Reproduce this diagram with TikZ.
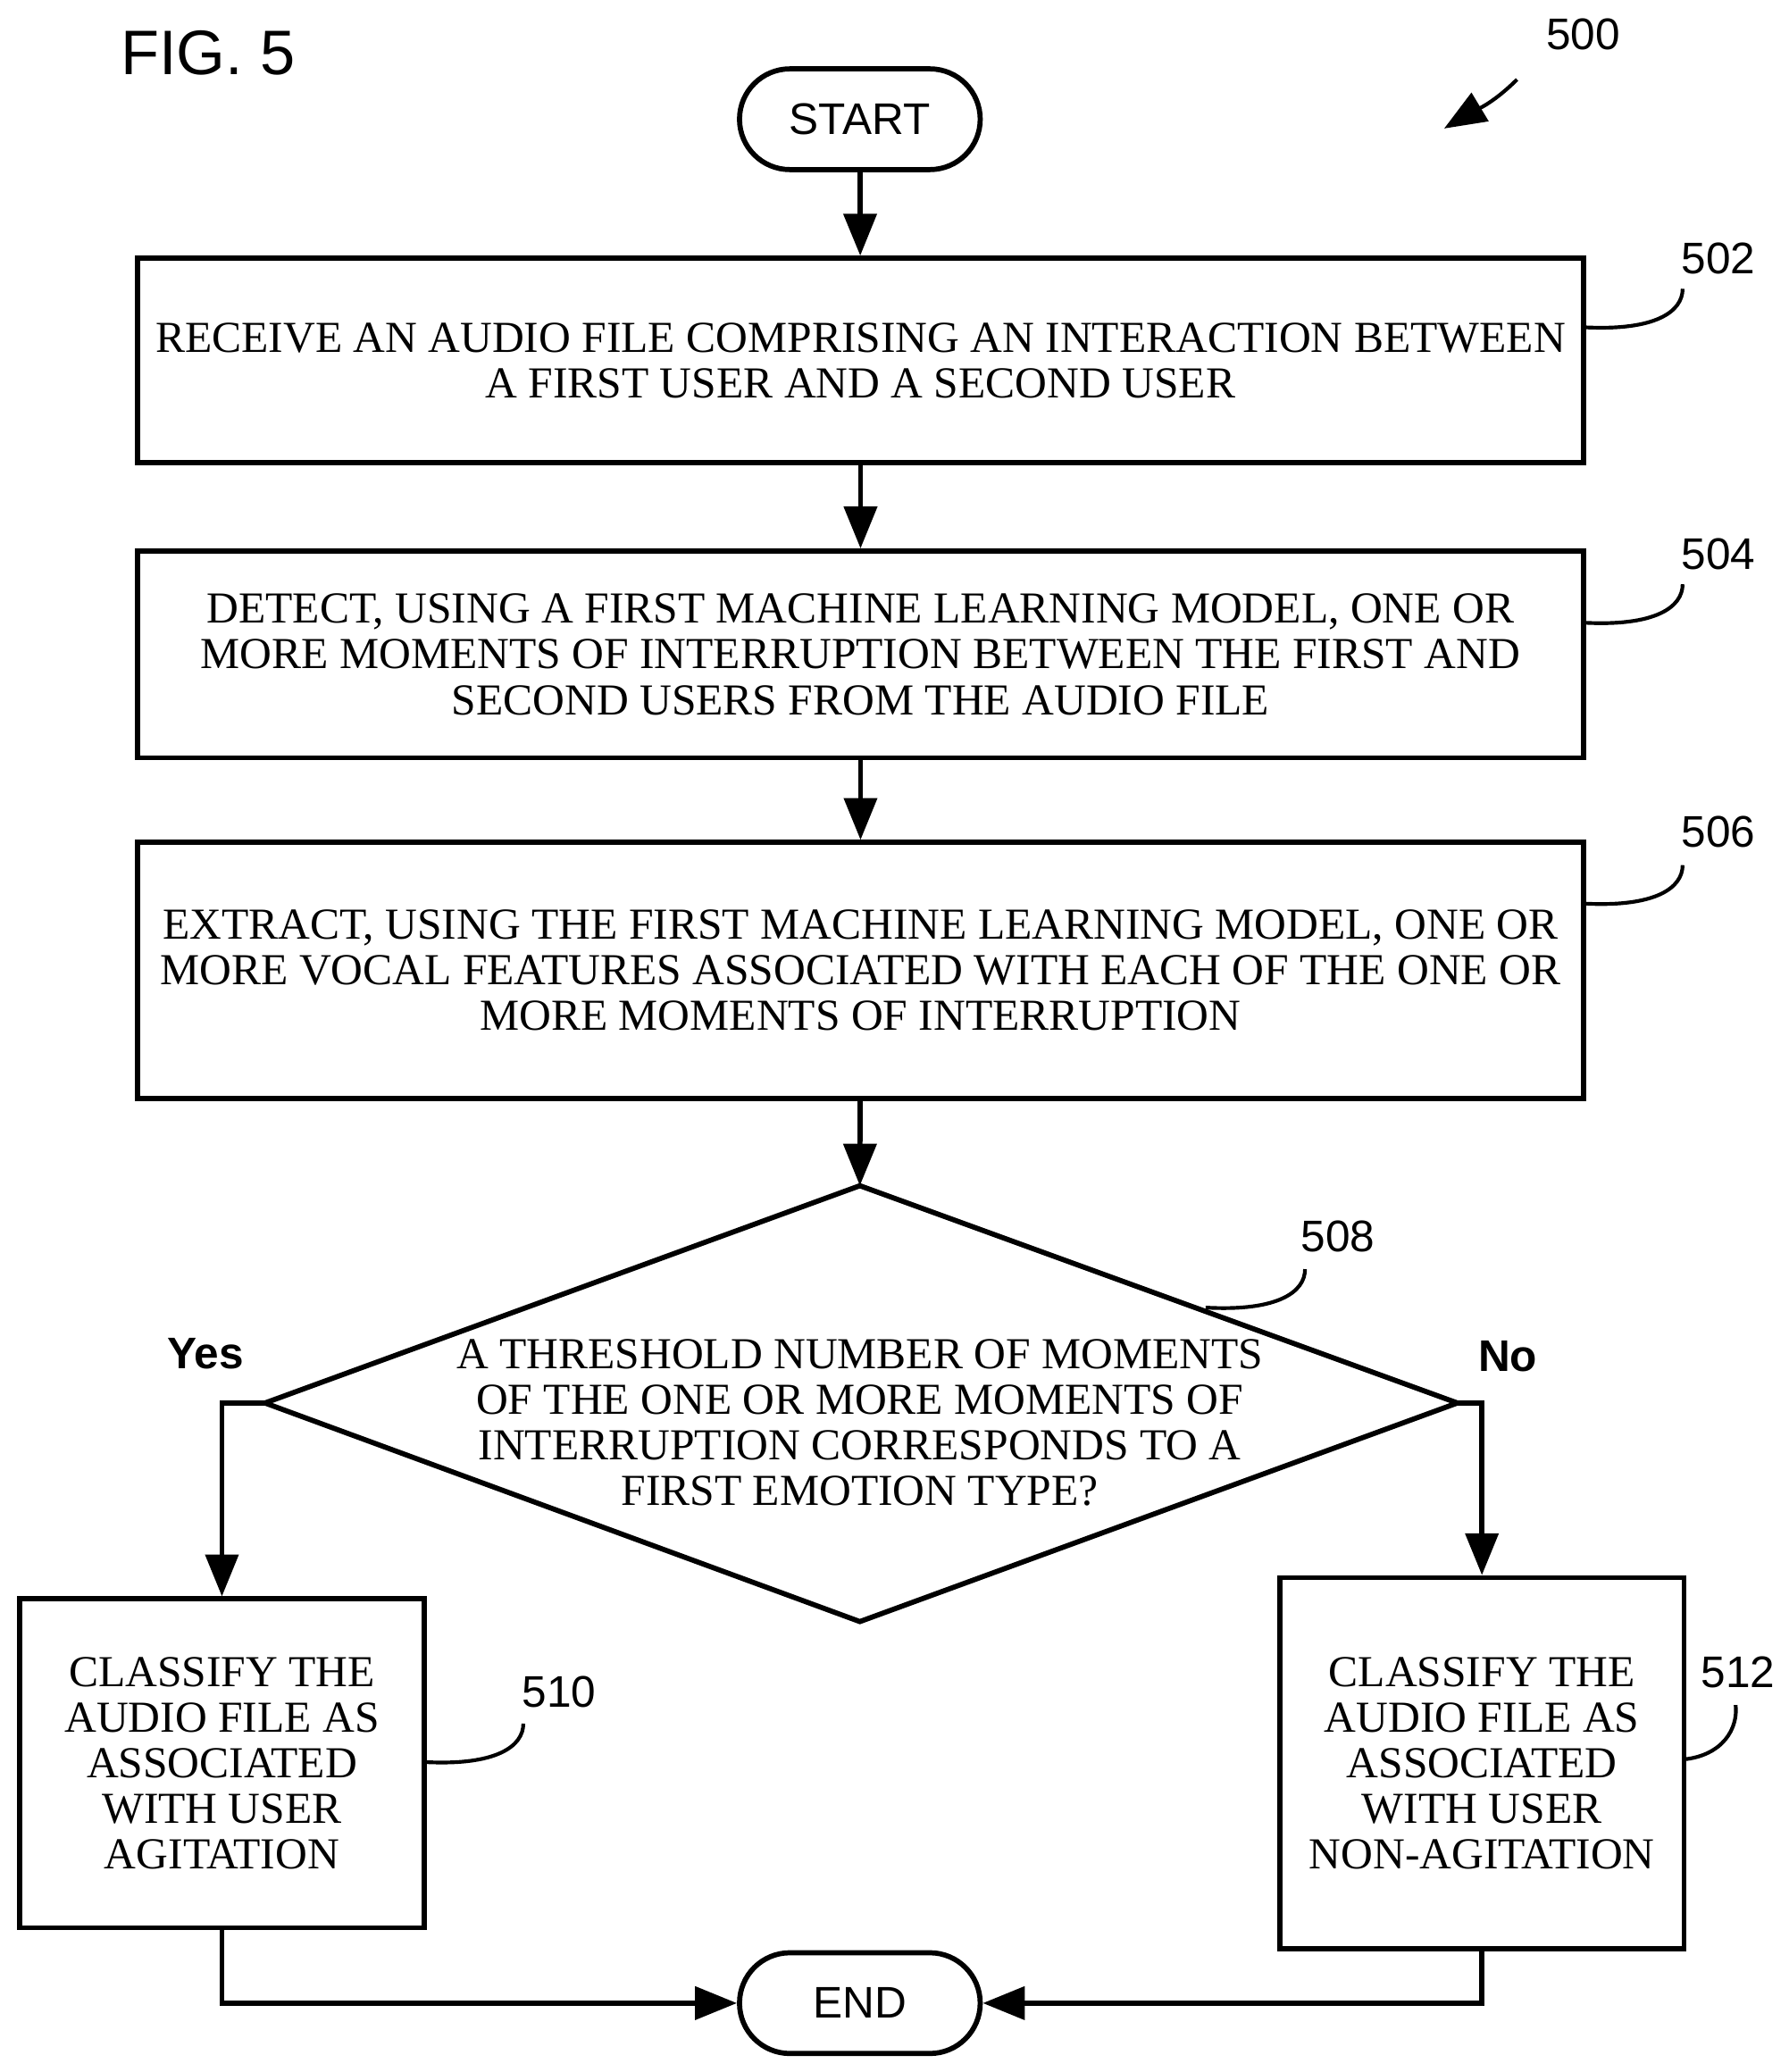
\documentclass[tikz,border=0pt]{standalone}
\usepackage{fontspec}
\setmainfont{Liberation Serif}
\setsansfont{Liberation Sans}
\usetikzlibrary{shapes.geometric,shapes.misc,arrows.meta}
\begin{document}
\begin{tikzpicture}[x=0.01cm,y=-0.01cm,line width=1.1pt,
  box/.style={draw, rectangle, align=center, font=\fontsize{9.5}{9.8}\selectfont, inner sep=0pt},
  term/.style={draw, rounded rectangle, minimum width=2.05cm, minimum height=0.76cm, font=\sffamily\fontsize{9.5}{11}\selectfont},
  lbl/.style={font=\sffamily\fontsize{9.5}{11}\selectfont},
  arr/.style={-{Triangle[length=9pt,width=7pt]}}]
\useasboundingbox (0,0) rectangle (1350,1564);
\node[font=\sffamily\fontsize{13.5}{15}\selectfont] at (157,40) {FIG. 5};
\node[lbl] (n500) at (1195,26) {500};
\draw[arr, line width=0.8pt] (1145,60) .. controls (1125,80) and (1110,85) .. (1090,97);
\node[term] (start) at (649,90) {START};
\node[box, minimum width=10.91cm, minimum height=1.54cm] (s502) at (649.5,272) {RECEIVE AN AUDIO FILE COMPRISING AN INTERACTION BETWEEN\\A FIRST USER AND A SECOND USER};
\node[box, minimum width=10.91cm, minimum height=1.56cm] (s504) at (649.5,494) {DETECT, USING A FIRST MACHINE LEARNING MODEL, ONE OR\\MORE MOMENTS OF INTERRUPTION BETWEEN THE FIRST AND\\SECOND USERS FROM THE AUDIO FILE};
\node[box, minimum width=10.91cm, minimum height=1.93cm] (s506) at (649.5,732.5) {EXTRACT, USING THE FIRST MACHINE LEARNING MODEL, ONE OR\\MORE VOCAL FEATURES ASSOCIATED WITH EACH OF THE ONE OR\\MORE MOMENTS OF INTERRUPTION};
\draw (649,895) coordinate (dtop) -- (1100,1059) coordinate (dright) -- (649,1224) coordinate (dbot) -- (200,1059) coordinate (dleft) -- cycle;
\node[align=center, font=\fontsize{9.5}{9.8}\selectfont] (s508) at (649,1074) {A THRESHOLD NUMBER OF MOMENTS\\OF THE ONE OR MORE MOMENTS OF\\INTERRUPTION CORRESPONDS TO A\\FIRST EMOTION TYPE?};
\node[box, minimum width=3.05cm, minimum height=2.48cm] (s510) at (167.5,1331) {CLASSIFY THE\\AUDIO FILE AS\\ASSOCIATED\\WITH USER\\AGITATION};
\node[box, minimum width=3.05cm, minimum height=2.8cm] (s512) at (1118.5,1331) {CLASSIFY THE\\AUDIO FILE AS\\ASSOCIATED\\WITH USER\\NON-AGITATION};
\node[term] (end) at (649,1512) {END};
% flow
\draw[arr] (start) -- (s502);
\draw[arr] (s502) -- (s504);
\draw[arr] (s504) -- (s506);
\draw[arr] (s506) -- (dtop);
\draw[arr] (dleft) -| (s510.north);
\draw[arr] (dright) -| (s512.north);
\draw[arr] (s510.south) |- (end.west);
\draw[arr] (s512.south) |- (end.east);
\node[lbl, font=\sffamily\bfseries\fontsize{9.5}{11}\selectfont] at (155,1022) {Yes};
\node[lbl, font=\sffamily\bfseries\fontsize{9.5}{11}\selectfont] at (1138,1024) {No};
% reference numerals
\node[lbl] (n502) at (1297,195) {502};
\node[lbl] (n504) at (1297,418) {504};
\node[lbl] (n506) at (1297,628) {506};
\node[lbl] (n508) at (1010,933) {508};
\node[lbl] (n510) at (422,1277) {510};
\node[lbl] (n512) at (1312,1262) {512};
\draw[line width=0.8pt] (1195,247) .. controls (1250,250) and (1270,235) .. (1270,218);
\draw[line width=0.8pt] (1195,470) .. controls (1250,473) and (1270,458) .. (1270,441);
\draw[line width=0.8pt] (1195,682) .. controls (1250,685) and (1270,670) .. (1270,653);
\draw[line width=0.8pt] (910,987) .. controls (965,990) and (985,975) .. (985,958);
\draw[line width=0.8pt] (320,1330) .. controls (375,1333) and (395,1318) .. (395,1301);
\draw[line width=0.8pt] (1271,1328) .. controls (1300,1325) and (1312,1305) .. (1310,1287);
\end{tikzpicture}
\end{document}
